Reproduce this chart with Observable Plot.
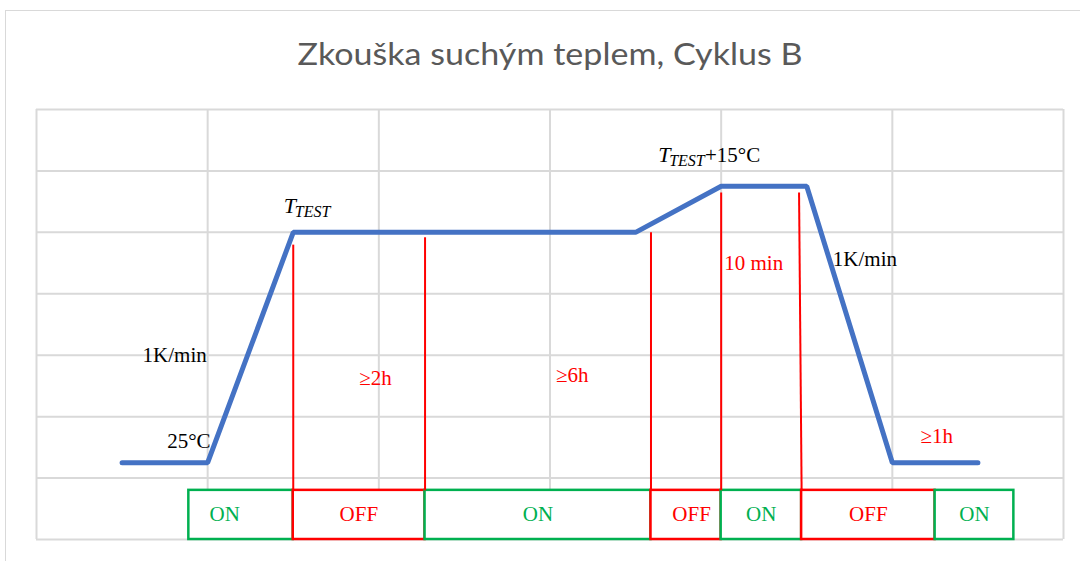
<!DOCTYPE html>
<html><head><meta charset="utf-8">
<script src="https://cdn.jsdelivr.net/npm/d3@7"></script>
<script src="https://cdn.jsdelivr.net/npm/@observablehq/plot@0.6"></script>
<style>
html,body{margin:0;padding:0;background:#fff;overflow:hidden;width:1080px;height:561px;}
#frame{position:absolute;left:5px;top:10px;width:1200px;height:700px;border:1px solid #d9d9d9;}
#chart{position:absolute;left:0;top:0;}
</style></head><body>
<div id="frame"></div><div id="chart"></div>
<script>
const title = "Zkouška suchým teplem, Cyklus B";
const gridX = [0, 1, 2, 3, 4, 5, 6];
const gridY = [0, 1, 2, 3, 4, 5, 6, 7];
// temperature profile (blue line)
const profileX = [0.5, 1, 1.5, 3.5, 4, 4.5, 5, 5.5];
const profileY = [1.25, 1.25, 5, 5, 5.75, 5.75, 1.25, 1.25];
// red phase markers
const markerX = [1.5, 2.27, 3.59, 4.0, 4.455];
const markerXBottom = [1.5, 2.27, 3.59, 4.0, 4.47];
const markerTop = [4.8, 4.92, 5.0, 5.65, 5.65];
const markerBottom = 0.8;
// ON / OFF boxes
const boxState = ["ON", "OFF", "ON", "OFF", "ON", "OFF", "ON"];
const boxStart = [0.89, 1.5, 2.27, 3.59, 4.0, 4.47, 5.25];
const boxEnd = [1.5, 2.27, 3.59, 4.0, 4.47, 5.25, 5.71];
const boxLabelX = [1.1, 1.883, 2.93, 3.827, 4.234, 4.86, 5.48];
const boxLabelY = 0.407;
// annotations
const annText = ["1K/min", "25°C", "≥2h", "≥6h", "10 min", "1K/min", "≥1h"];
const annX = [0.807, 0.89, 1.98, 3.13, 4.19, 4.84, 5.26];
const annY = [3.0, 1.6, 2.62, 2.67, 4.49, 4.57, 1.68];
const annColor = ["#000000", "#000000", "#ff0000", "#ff0000", "#ff0000", "#000000", "#ff0000"];
// T_TEST labels: [main, subscript, suffix]
const tMainX = [1.444, 3.632];
const tMainY = [5.43, 6.26];
const tSubX = [1.509, 3.696];
const tSubY = [5.34, 6.165];
const tSuffix = ["", "+15°C"];
const tSuffixX = [1.5, 3.905];

const COLORS = {on: "#00b050", off: "#ff0000", line: "#4472c4", grid: "#d9d9d9"};
const serif = "'Liberation Serif', 'Times New Roman', serif";

const markers = markerX.map((x, i) => ({x1: x, x2: markerXBottom[i], y1: markerTop[i], y2: markerBottom}));
const boxes = boxState.map((s, i) => ({s, x1: boxStart[i], x2: boxEnd[i], lx: boxLabelX[i],
  color: s === "ON" ? COLORS.on : COLORS.off}));
const profile = profileX.map((x, i) => ({x, y: profileY[i]}));
const ann = annText.map((t, i) => ({t, x: annX[i], y: annY[i], c: annColor[i]}));
const tLabels = tMainX.map((x, i) => ({x, y: tMainY[i], sx: tSubX[i], sy: tSubY[i], suf: tSuffix[i], fx: tSuffixX[i]}));

const chart = Plot.plot({
  width: 1080, height: 561,
  marginLeft: 36, marginRight: 17, marginTop: 109, marginBottom: 22,
  x: {domain: [0, 6], axis: null},
  y: {domain: [0, 7], axis: null},
  color: {type: "identity"},
  style: {background: "transparent", fontFamily: serif},
  marks: [
    Plot.ruleX(gridX, {stroke: COLORS.grid, strokeWidth: 2}),
    Plot.ruleY(gridY, {stroke: COLORS.grid, strokeWidth: 2}),
    Plot.text([title], {frameAnchor: "top", lineAnchor: "middle", dy: -54, text: d => d, fontSize: 31, fill: "#595959",
      fontFamily: "Lato, 'Open Sans', sans-serif"}),
    Plot.line(profile, {x: "x", y: "y", stroke: COLORS.line, strokeWidth: 5, strokeLinecap: "round", strokeLinejoin: "miter"}),
    Plot.rect(boxes, {x1: "x1", x2: "x2", y1: 0, y2: markerBottom, fill: "white", stroke: "color", strokeWidth: 2.5}),
    Plot.link(markers, {x1: "x1", y1: "y1", x2: "x2", y2: "y2", stroke: COLORS.off, strokeWidth: 2}),
    Plot.text(boxes, {x: "lx", y: boxLabelY, text: "s", fill: "color", fontSize: 21, fontFamily: serif}),
    Plot.text(ann, {x: "x", y: "y", text: "t", fill: "c", fontSize: 21, fontFamily: serif}),
    Plot.text(tLabels, {x: "x", y: "y", text: () => "T", textAnchor: "start", fontSize: 22, fontStyle: "italic", fontFamily: serif, fill: "black"}),
    Plot.text(tLabels, {x: "sx", y: "sy", text: () => "TEST", textAnchor: "start", fontSize: 16, fontStyle: "italic", fontFamily: serif, fill: "black"}),
    Plot.text(tLabels, {x: "fx", y: "y", text: "suf", textAnchor: "start", fontSize: 21, fontFamily: serif, fill: "black"})
  ]
});
d3.select(chart).selectAll("text").filter(function() { return this.textContent === title; })
  .attr("textLength", 505).attr("lengthAdjust", "spacingAndGlyphs");
document.getElementById("chart").appendChild(chart);
</script>
</body></html>
